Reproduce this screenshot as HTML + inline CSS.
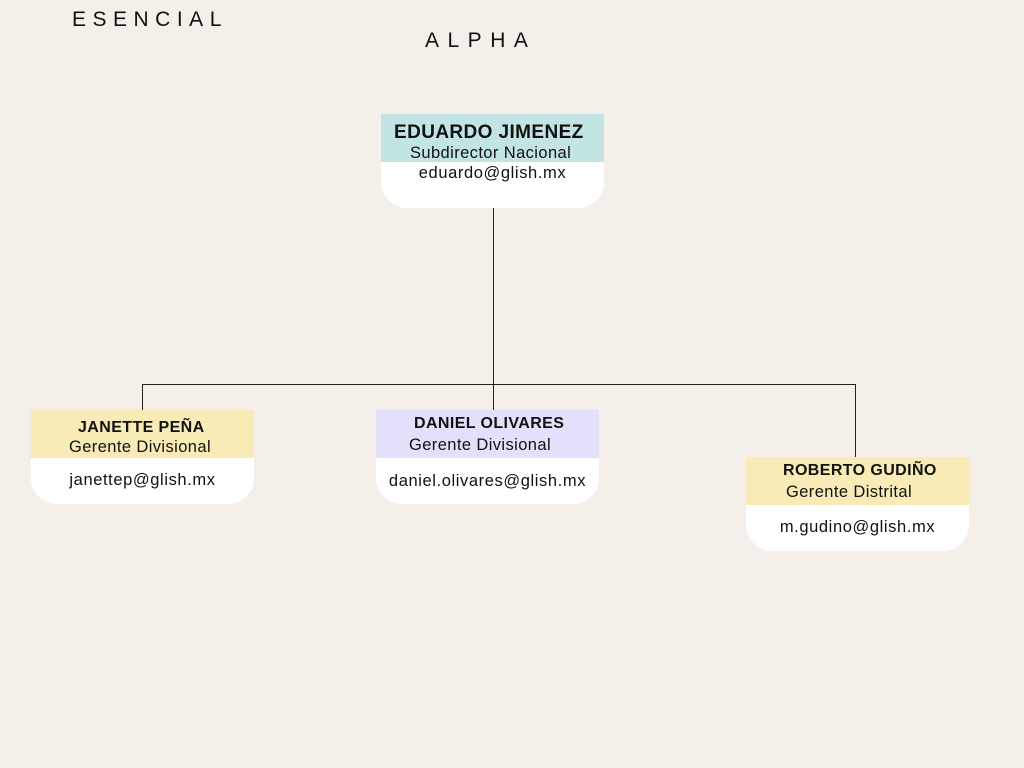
<!DOCTYPE html>
<html><head><meta charset="utf-8"><style>
body{margin:0;width:1024px;height:768px;background:#f4efe9;position:relative;overflow:hidden;font-family:"Liberation Sans",sans-serif;color:#111}
.t{position:absolute;font-size:21px;font-weight:bold;-webkit-text-stroke:0}
.box{position:absolute;width:223px;height:94px;background:#fff;border-radius:0 0 26px 26px;overflow:hidden}
.hd{height:48px;position:relative}
.n{position:absolute;font-weight:bold;font-size:16px;white-space:nowrap;letter-spacing:0.4px}
.r{position:absolute;font-size:16.5px;white-space:nowrap;letter-spacing:0.4px}
.e{position:absolute;font-size:16.5px;width:100%;text-align:center;white-space:nowrap;letter-spacing:0.6px}
.l{position:absolute;background:#222}
</style></head><body>
<div class="t" style="left:72px;top:8px;letter-spacing:6.5px;font-weight:normal">ESENCIAL</div>
<div class="t" style="left:425px;top:29px;letter-spacing:8.5px;font-weight:normal">ALPHA</div>
<div class="l" style="left:493px;top:207px;width:1px;height:177px"></div>
<div class="l" style="left:142px;top:384px;width:714px;height:1px"></div>
<div class="l" style="left:142px;top:384px;width:1px;height:26px"></div>
<div class="l" style="left:493px;top:384px;width:1px;height:26px"></div>
<div class="l" style="left:855px;top:384px;width:1px;height:73px"></div>

<div class="box" style="left:381px;top:114px"><div class="hd" style="background:#c2e4e2"><div class="n" style="left:13px;top:8px;font-size:19px">EDUARDO JIMENEZ</div><div class="r" style="left:29px;top:30px">Subdirector Nacional</div></div><div class="e" style="top:50px">eduardo@glish.mx</div></div>

<div class="box" style="left:31px;top:410px"><div class="hd" style="background:#f8ebb5"><div class="n" style="left:47px;top:9px">JANETTE PEÑA</div><div class="r" style="left:38px;top:28px">Gerente Divisional</div></div><div class="e" style="top:61px">janettep@glish.mx</div></div>

<div class="box" style="left:376px;top:410px"><div class="hd" style="background:#e2e0fb"><div class="n" style="left:38px;top:5px">DANIEL OLIVARES</div><div class="r" style="left:33px;top:26px">Gerente Divisional</div></div><div class="e" style="top:62px">daniel.olivares@glish.mx</div></div>

<div class="box" style="left:746px;top:457px"><div class="hd" style="background:#f8ebb5"><div class="n" style="left:37px;top:5px">ROBERTO GUDIÑO</div><div class="r" style="left:40px;top:26px">Gerente Distrital</div></div><div class="e" style="top:61px">m.gudino@glish.mx</div></div>
</body></html>
